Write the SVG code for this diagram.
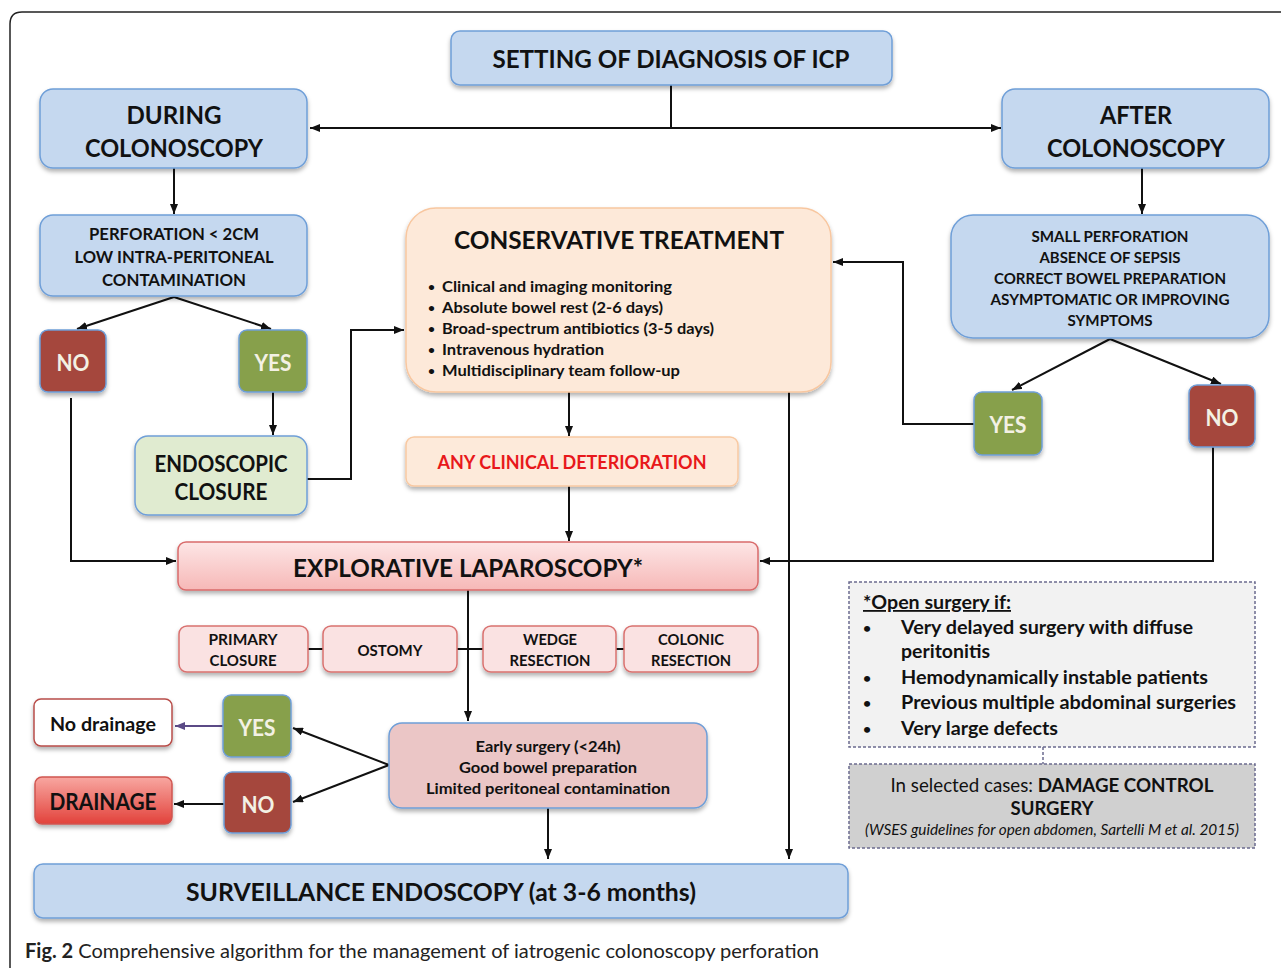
<svg xmlns="http://www.w3.org/2000/svg" width="1281" height="968" viewBox="0 0 1281 968">
<defs>
<style>
text{font-family:Lato,"Open Sans","Liberation Sans",sans-serif;fill:#111;text-anchor:middle}
.b{font-weight:bold}
.blue{fill:#c5d8ef;stroke:#6f9fd8;stroke-width:1.5}
.no{fill:#a5463e;stroke:#6f9fd8;stroke-width:1.5}
.yes{fill:#87a04b;stroke:#6f9fd8;stroke-width:1.5}
.yn{fill:#f3f1e4;font-weight:bold;font-size:22px}
.pk{fill:#fae2e2;stroke:#d9716f;stroke-width:1.5}
.c{fill:none;stroke:#111;stroke-width:2}
.l{text-anchor:start}
.sh{filter:url(#sh)}
</style>
<filter id="sh" x="-10%" y="-10%" width="120%" height="140%">
<feDropShadow dx="0" dy="3" stdDeviation="2" flood-color="#000" flood-opacity="0.3"/>
</filter>
<linearGradient id="gExp" x1="0" y1="0" x2="0" y2="1"><stop offset="0" stop-color="#fde6e6"/><stop offset="1" stop-color="#f6b8b7"/></linearGradient>
<linearGradient id="gDr" x1="0" y1="0" x2="0" y2="1"><stop offset="0" stop-color="#f8a7a1"/><stop offset="1" stop-color="#e2423b"/></linearGradient>
<marker id="ar" viewBox="0 0 10 8" refX="10" refY="4" markerWidth="10" markerHeight="8" markerUnits="userSpaceOnUse" orient="auto"><path d="M0,0 L10,4 L0,8 z" fill="#111"/></marker>
<marker id="arp" viewBox="0 0 10 8" refX="10" refY="4" markerWidth="10" markerHeight="8" markerUnits="userSpaceOnUse" orient="auto"><path d="M0,0 L10,4 L0,8 z" fill="#5b4a86"/></marker>
</defs>
<rect width="1281" height="968" fill="#fff"/>
<path d="M10 968 V24 Q10 12 22 12 H1281" fill="none" stroke="#222" stroke-width="1.5"/>

<g id="connectors">
<path class="c" d="M671 85 V128"/>
<path class="c" d="M671 128 H310" marker-end="url(#ar)"/>
<path class="c" d="M671 128 H1001" marker-end="url(#ar)"/>
<path class="c" d="M174 168 V214" marker-end="url(#ar)"/>
<path class="c" d="M174 297 L77 329" marker-end="url(#ar)"/>
<path class="c" d="M174 297 L271 329" marker-end="url(#ar)"/>
<path class="c" d="M273 392 V435" marker-end="url(#ar)"/>
<path class="c" d="M307 479 H351 V330 H404" marker-end="url(#ar)"/>
<path class="c" d="M71 398 V561 H176" marker-end="url(#ar)"/>
<path class="c" d="M569 392 V436" marker-end="url(#ar)"/>
<path class="c" d="M569 486 V541" marker-end="url(#ar)"/>
<path class="c" d="M789 392 V859" marker-end="url(#ar)"/>
<path class="c" d="M1142 168 V214" marker-end="url(#ar)"/>
<path class="c" d="M1110 339 L1012 390" marker-end="url(#ar)"/>
<path class="c" d="M1110 339 L1221 384" marker-end="url(#ar)"/>
<path class="c" d="M974 424 H903 V262 H833" marker-end="url(#ar)"/>
<path class="c" d="M1213 447 V561 H760" marker-end="url(#ar)"/>
<path class="c" d="M468 590 V721" marker-end="url(#ar)"/>
<path class="c" d="M308 649 H323 M457 649 H483 M616 649 H624"/>
<path class="c" d="M389 765 L293 728" marker-end="url(#ar)"/>
<path class="c" d="M389 765 L293 802" marker-end="url(#ar)"/>
<path d="M223 726 H175" fill="none" stroke="#5b4a86" stroke-width="2" marker-end="url(#arp)"/>
<path class="c" d="M224 804 H174" marker-end="url(#ar)"/>
<path class="c" d="M548 808 V859" marker-end="url(#ar)"/>
<path d="M1043 747 V764" fill="none" stroke="#6b6b8f" stroke-width="1.5" stroke-dasharray="3,2"/>
</g>

<g id="setting"><rect class="blue sh" x="451" y="31" width="441" height="54" rx="9"/>
<text class="b" x="671" y="68" font-size="24" textLength="357" lengthAdjust="spacingAndGlyphs">SETTING OF DIAGNOSIS OF ICP</text></g>

<g id="during"><rect class="blue sh" x="40" y="89" width="267" height="79" rx="13"/>
<text class="b" x="174" y="124" font-size="25" textLength="95" lengthAdjust="spacingAndGlyphs">DURING</text>
<text class="b" x="174" y="157" font-size="25" textLength="178" lengthAdjust="spacingAndGlyphs">COLONOSCOPY</text></g>

<g id="after"><rect class="blue sh" x="1002" y="89" width="267" height="79" rx="13"/>
<text class="b" x="1136" y="124" font-size="25" textLength="72" lengthAdjust="spacingAndGlyphs">AFTER</text>
<text class="b" x="1136" y="157" font-size="25" textLength="178" lengthAdjust="spacingAndGlyphs">COLONOSCOPY</text></g>

<g id="perforation"><rect class="blue sh" x="40" y="215" width="267" height="81" rx="13"/>
<text class="b" x="174" y="240" font-size="17" textLength="170" lengthAdjust="spacingAndGlyphs">PERFORATION &lt; 2CM</text>
<text class="b" x="174" y="263" font-size="17" textLength="199" lengthAdjust="spacingAndGlyphs">LOW INTRA-PERITONEAL</text>
<text class="b" x="174" y="286" font-size="17" textLength="144" lengthAdjust="spacingAndGlyphs">CONTAMINATION</text></g>

<g id="no1"><rect class="no sh" x="40" y="330" width="66" height="62" rx="8"/>
<text class="yn" x="73" y="371" textLength="33" lengthAdjust="spacingAndGlyphs">NO</text></g>
<g id="yes1"><rect class="yes sh" x="239" y="330" width="68" height="62" rx="8"/>
<text class="yn" x="273" y="371" textLength="37" lengthAdjust="spacingAndGlyphs">YES</text></g>

<g id="endoscopic"><rect class="sh" x="135" y="436" width="172" height="79" rx="13" fill="#e0ebd0" stroke="#6f9fd8" stroke-width="1.5"/>
<text class="b" x="221" y="472" font-size="22" textLength="133" lengthAdjust="spacingAndGlyphs">ENDOSCOPIC</text>
<text class="b" x="221" y="500" font-size="22" textLength="93" lengthAdjust="spacingAndGlyphs">CLOSURE</text></g>

<g id="conservative"><rect class="sh" x="406" y="208" width="425" height="184" rx="30" fill="#fde9d9" stroke="#f8c7a0" stroke-width="1.5"/>
<text class="b" x="619" y="249" font-size="25" textLength="330" lengthAdjust="spacingAndGlyphs">CONSERVATIVE TREATMENT</text>
<text class="l b" x="428" y="291" font-size="12">•</text><text class="l b" x="442" y="292" font-size="16" textLength="230" lengthAdjust="spacingAndGlyphs">Clinical and imaging monitoring</text>
<text class="l b" x="428" y="312" font-size="12">•</text><text class="l b" x="442" y="313" font-size="16" textLength="221" lengthAdjust="spacingAndGlyphs">Absolute bowel rest (2-6 days)</text>
<text class="l b" x="428" y="333" font-size="12">•</text><text class="l b" x="442" y="334" font-size="16" textLength="272" lengthAdjust="spacingAndGlyphs">Broad-spectrum antibiotics (3-5 days)</text>
<text class="l b" x="428" y="354" font-size="12">•</text><text class="l b" x="442" y="355" font-size="16" textLength="162" lengthAdjust="spacingAndGlyphs">Intravenous hydration</text>
<text class="l b" x="428" y="375" font-size="12">•</text><text class="l b" x="442" y="376" font-size="16" textLength="238" lengthAdjust="spacingAndGlyphs">Multidisciplinary team follow-up</text>
</g>

<g id="deterioration"><rect class="sh" x="406" y="437" width="332" height="49" rx="8" fill="#fdeada" stroke="#f8c9a2" stroke-width="1.5"/>
<text class="b" x="572" y="469" font-size="19" style="fill:#e8181b" textLength="269" lengthAdjust="spacingAndGlyphs">ANY CLINICAL DETERIORATION</text></g>

<g id="small"><rect class="blue sh" x="951" y="215" width="318" height="123" rx="22"/>
<text class="b" x="1110" y="242" font-size="15" textLength="157" lengthAdjust="spacingAndGlyphs">SMALL PERFORATION</text>
<text class="b" x="1110" y="263" font-size="15" textLength="141" lengthAdjust="spacingAndGlyphs">ABSENCE OF SEPSIS</text>
<text class="b" x="1110" y="284" font-size="15" textLength="232" lengthAdjust="spacingAndGlyphs">CORRECT BOWEL PREPARATION</text>
<text class="b" x="1110" y="305" font-size="15" textLength="239" lengthAdjust="spacingAndGlyphs">ASYMPTOMATIC OR IMPROVING</text>
<text class="b" x="1110" y="326" font-size="15" textLength="85" lengthAdjust="spacingAndGlyphs">SYMPTOMS</text></g>

<g id="yes2"><rect class="yes sh" x="974" y="392" width="68" height="63" rx="8"/>
<text class="yn" x="1008" y="433" textLength="37" lengthAdjust="spacingAndGlyphs">YES</text></g>
<g id="no2"><rect class="no sh" x="1189" y="385" width="66" height="62" rx="8"/>
<text class="yn" x="1222" y="426" textLength="33" lengthAdjust="spacingAndGlyphs">NO</text></g>

<g id="explorative"><rect class="sh" x="178" y="542" width="580" height="48" rx="8" fill="url(#gExp)" stroke="#d96b6b" stroke-width="1.5"/>
<text class="b" x="468" y="577" font-size="25" textLength="350" lengthAdjust="spacingAndGlyphs">EXPLORATIVE LAPAROSCOPY*</text></g>

<g id="primary"><rect class="pk sh" x="179" y="626" width="129" height="46" rx="8"/>
<text class="b" x="243" y="645" font-size="15" textLength="69" lengthAdjust="spacingAndGlyphs">PRIMARY</text>
<text class="b" x="243" y="666" font-size="15" textLength="67" lengthAdjust="spacingAndGlyphs">CLOSURE</text></g>
<g id="ostomy"><rect class="pk sh" x="323" y="626" width="134" height="46" rx="8"/>
<text class="b" x="390" y="656" font-size="15" textLength="65" lengthAdjust="spacingAndGlyphs">OSTOMY</text></g>
<g id="wedge"><rect class="pk sh" x="483" y="626" width="133" height="46" rx="8"/>
<text class="b" x="550" y="645" font-size="15" textLength="54" lengthAdjust="spacingAndGlyphs">WEDGE</text>
<text class="b" x="550" y="666" font-size="15" textLength="81" lengthAdjust="spacingAndGlyphs">RESECTION</text></g>
<g id="colonic"><rect class="pk sh" x="624" y="626" width="134" height="46" rx="8"/>
<text class="b" x="691" y="645" font-size="15" textLength="66" lengthAdjust="spacingAndGlyphs">COLONIC</text>
<text class="b" x="691" y="666" font-size="15" textLength="80" lengthAdjust="spacingAndGlyphs">RESECTION</text></g>

<g id="early"><rect class="sh" x="389" y="723" width="318" height="85" rx="13" fill="#ebc6c6" stroke="#6f9fd8" stroke-width="1.5"/>
<text x="548" y="752" font-size="15" font-weight="bold" textLength="145" lengthAdjust="spacingAndGlyphs">Early surgery (&lt;24h)</text>
<text x="548" y="773" font-size="15" font-weight="bold" textLength="178" lengthAdjust="spacingAndGlyphs">Good bowel preparation</text>
<text x="548" y="794" font-size="15" font-weight="bold" textLength="244" lengthAdjust="spacingAndGlyphs">Limited peritoneal contamination</text></g>

<g id="yes3"><rect class="yes sh" x="223" y="695" width="68" height="62" rx="8"/>
<text class="yn" x="257" y="736" textLength="37" lengthAdjust="spacingAndGlyphs">YES</text></g>
<g id="no3"><rect class="no sh" x="224" y="772" width="67" height="61" rx="8"/>
<text class="yn" x="258" y="813" textLength="33" lengthAdjust="spacingAndGlyphs">NO</text></g>

<g id="nodrainage"><rect class="sh" x="34" y="699" width="138" height="47" rx="7" fill="#fff" stroke="#b84d49" stroke-width="1.5"/>
<text class="b" x="103" y="731" font-size="19" textLength="106" lengthAdjust="spacingAndGlyphs">No drainage</text></g>
<g id="drainage"><rect class="sh" x="35" y="777" width="137" height="47" rx="7" fill="url(#gDr)" stroke="#d05550" stroke-width="1.5"/>
<text class="b" x="103" y="810" font-size="22" textLength="107" lengthAdjust="spacingAndGlyphs">DRAINAGE</text></g>

<g id="surveillance"><rect class="blue sh" x="34" y="864" width="814" height="54" rx="9"/>
<text class="b" x="441" y="901" font-size="25" textLength="510" lengthAdjust="spacingAndGlyphs">SURVEILLANCE ENDOSCOPY (at 3-6 months)</text></g>

<g id="opensurgery"><rect x="849" y="582" width="406" height="165" fill="#f2f2f2" stroke="#6b6b8f" stroke-width="1.5" stroke-dasharray="3,2"/>
<text class="l b" x="863" y="609" font-size="18" text-decoration="underline" textLength="148" lengthAdjust="spacingAndGlyphs">*Open surgery if:</text>
<text class="l b" x="863" y="633" font-size="14">•</text><text class="l b" x="901" y="634" font-size="19" textLength="292" lengthAdjust="spacingAndGlyphs">Very delayed surgery with diffuse</text>
<text class="l b" x="901" y="658" font-size="19" textLength="89" lengthAdjust="spacingAndGlyphs">peritonitis</text>
<text class="l b" x="863" y="683" font-size="14">•</text><text class="l b" x="901" y="684" font-size="19" textLength="307" lengthAdjust="spacingAndGlyphs">Hemodynamically instable patients</text>
<text class="l b" x="863" y="708" font-size="14">•</text><text class="l b" x="901" y="709" font-size="19" textLength="335" lengthAdjust="spacingAndGlyphs">Previous multiple abdominal surgeries</text>
<text class="l b" x="863" y="734" font-size="14">•</text><text class="l b" x="901" y="735" font-size="19" textLength="157" lengthAdjust="spacingAndGlyphs">Very large defects</text></g>

<g id="damage"><rect x="849" y="764" width="406" height="84" fill="#d0d0d0" stroke="#6b6b8f" stroke-width="1.5" stroke-dasharray="3,2"/>
<text x="1052" y="792" font-size="19" textLength="323" lengthAdjust="spacingAndGlyphs">In selected cases: <tspan font-weight="bold">DAMAGE CONTROL</tspan></text>
<text class="b" x="1052" y="815" font-size="19" textLength="83" lengthAdjust="spacingAndGlyphs">SURGERY</text>
<text x="1052" y="835" font-size="15" font-style="italic" textLength="374" lengthAdjust="spacingAndGlyphs">(WSES guidelines for open abdomen, Sartelli M et al. 2015)</text></g>

<g id="caption"><text class="l" x="25" y="958" font-size="20" style="fill:#222" textLength="794" lengthAdjust="spacingAndGlyphs"><tspan font-weight="bold">Fig. 2</tspan> Comprehensive algorithm for the management of iatrogenic colonoscopy perforation</text></g>
</svg>
